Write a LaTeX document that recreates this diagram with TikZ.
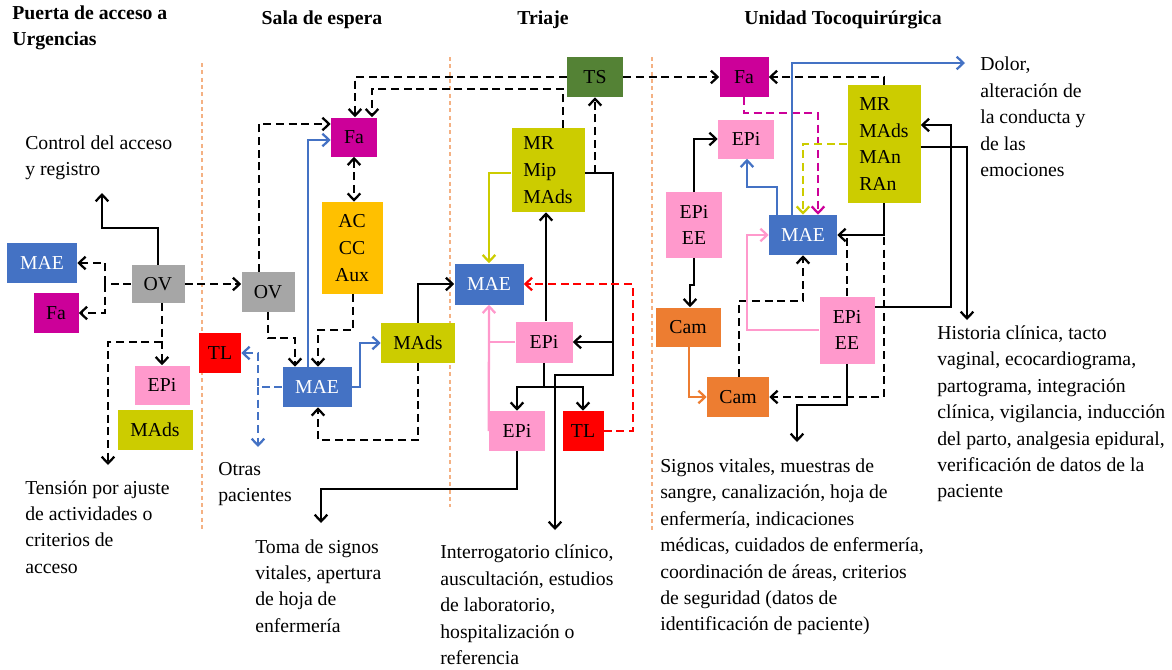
\documentclass[tikz,border=0pt]{standalone}
\usepackage{fontspec}
\setmainfont{Liberation Serif}
\usetikzlibrary{arrows.meta}
\definecolor{cMAE}{RGB}{68,114,196}
\definecolor{cFa}{RGB}{204,0,153}
\definecolor{cOV}{RGB}{166,166,166}
\definecolor{cEPi}{RGB}{255,153,204}
\definecolor{cMAds}{RGB}{204,204,0}
\definecolor{cTL}{RGB}{255,0,0}
\definecolor{cAC}{RGB}{255,192,0}
\definecolor{cTS}{RGB}{84,130,53}
\definecolor{cCam}{RGB}{237,125,49}
\definecolor{cSep}{RGB}{244,177,131}
\tikzset{
  box/.style={draw=none, inner sep=0pt, align=center, font=\fontsize{14.8}{20}\selectfont},
  wh/.style 2 args={minimum width=#1*0.75pt, minimum height=#2*0.75pt},
  txt/.style={anchor=west, inner sep=0pt, align=left, font=\fontsize{14.8}{19.8}\selectfont},
  hdr/.style={inner sep=0pt, align=left, font=\fontsize{14.8}{19.8}\selectfont\bfseries},
  ln/.style={line width=1.7pt, draw=black},
  arr/.style={-{Straight Barb[length=5pt,width=9.5pt]}},
  darr/.style={{Straight Barb[length=5pt,width=9.5pt]}-{Straight Barb[length=5pt,width=9.5pt]}},
  dsh/.style={dash pattern=on 6pt off 3.5pt},
  bl/.style={draw=cMAE},
  pk/.style={draw=cEPi},
  yg/.style={draw=cMAds},
  mg/.style={draw=cFa},
  rd/.style={draw=cTL},
  og/.style={draw=cCam},
  sep/.style={draw=cSep, line width=0.8pt, dash pattern=on 3pt off 2.5pt}
}
\begin{document}
\begin{tikzpicture}[x=0.75pt,y=-0.75pt]
\useasboundingbox (0,0) rectangle (1172,669);
% headers
\node[hdr, anchor=west] (h1) at (12,28) {Puerta de acceso a\\Urgencias};
\node[hdr] (h2) at (322,20) {Sala de espera};
\node[hdr] (h3) at (543,20) {Triaje};
\node[hdr] (h4) at (843,20) {Unidad Tocoquirúrgica};
% separators
\draw[sep] (202,63) -- (202,530);
\draw[sep] (450,57) -- (450,507);
\draw[sep] (652,57) -- (652,530);
% boxes
\node[box, wh={70}{40}, fill=cMAE, text=white] (MAEa) at (42,263) {MAE};
\node[box, wh={45}{40}, fill=cFa] (Faa) at (56,313) {Fa};
\node[box, wh={53}{38}, fill=cOV] (OVa) at (158,284) {OV};
\node[box, wh={53}{40}, fill=cOV] (OVb) at (268,292) {OV};
\node[box, wh={42}{40}, fill=cTL] (TLb) at (220,353) {TL};
\node[box, wh={55}{39}, fill=cEPi] (EPia) at (162,385) {EPi};
\node[box, wh={75}{40}, fill=cMAds] (MAdsa) at (155,430) {MAds};
\node[box, wh={46}{39}, fill=cFa] (Fab) at (354,137) {Fa};
\node[box, wh={61}{92}, fill=cAC] (AC) at (352,248) {AC\\CC\\Aux};
\node[box, wh={69}{40}, fill=cMAE, text=white] (MAEb) at (317,387) {MAE};
\node[box, wh={74}{40}, fill=cMAds] (MAdsb) at (418,343) {MAds};
\node[box, wh={56}{40}, fill=cTS] (TS) at (595,77) {TS};
\node[box, wh={73}{84}, fill=cMAds, align=left] (MRc) at (548,170) {MR\\Mip\\MAds};
\node[box, wh={69}{41}, fill=cMAE, text=white] (MAEc) at (489,284) {MAE};
\node[box, wh={57}{41}, fill=cEPi] (EPic) at (544,342) {EPi};
\node[box, wh={56}{40}, fill=cEPi] (EPid) at (517,431) {EPi};
\node[box, wh={41}{40}, fill=cTL] (TLc) at (583,431) {TL};
\node[box, wh={49}{40}, fill=cFa] (Fad) at (744,77) {Fa};
\node[box, wh={56}{39}, fill=cEPi] (EPie) at (746,139) {EPi};
\node[box, wh={56}{66}, fill=cEPi] (EPiEEa) at (694,225) {EPi\\EE};
\node[box, wh={68}{40}, fill=cMAE, text=white] (MAEd) at (803,235) {MAE};
\node[box, wh={73}{118}, fill=cMAds, align=left] (MRd) at (884,144) {MR\\MAds\\MAn\\RAn};
\node[box, wh={65}{39}, fill=cCam] (Cama) at (688,327) {Cam};
\node[box, wh={62}{40}, fill=cCam] (Camb) at (738,397) {Cam};
\node[box, wh={55}{67}, fill=cEPi] (EPiEEb) at (847,330) {EPi\\EE};
% texts
\node[txt] (tCtrl) at (25,158) {Control del acceso\\y registro};
\node[txt] (tTens) at (25,527) {Tensión por ajuste\\de actividades o\\criterios de\\acceso};
\node[txt] (tOtras) at (218,484) {Otras\\pacientes};
\node[txt] (tToma) at (255,586) {Toma de signos\\vitales, apertura\\de hoja de\\enfermería};
\node[txt] (tInt) at (440,605) {Interrogatorio clínico,\\auscultación, estudios\\de laboratorio,\\hospitalización o\\referencia};
\node[txt] (tSig) at (660,547) {Signos vitales, muestras de\\sangre, canalización, hoja de\\enfermería, indicaciones\\médicas, cuidados de enfermería,\\coordinación de áreas, criterios\\de seguridad (datos de\\identificación de paciente)};
\node[txt] (tHist) at (937,414) {Historia clínica, tacto\\vaginal, ecocardiograma,\\partograma, integración\\clínica, vigilancia, inducción\\del parto, analgesia epidural,\\verificación de datos de la\\paciente};
\node[txt] (tDol) at (980,117) {Dolor,\\alteración de\\la conducta y\\de las\\emociones};
% arrow target coordinates
\coordinate (pCtrl) at (102,193);
\coordinate (pTens) at (108,465);
\coordinate (pOtras) at (258,447);
\coordinate (pToma) at (321,523);
\coordinate (pInt) at (555,530);
\coordinate (pSig) at (797,442);
\coordinate (pHist) at (967,320);
\coordinate (pDol) at (965,63);
% ---- connectors: Puerta
\draw[ln, arr] (OVa.north) |- (130,228) -| (pCtrl);
\draw[ln, dsh] (OVa.west) -- (105,284);
\draw[ln, dsh, arr] (105,284) |- (MAEa.east);
\draw[ln, dsh, arr] (105,284) |- (Faa.east);
\draw[ln, dsh, arr] (162,0 |- OVa.south) -- (EPia.north);
\draw[ln, dsh, arr] (162,342) -| (pTens);
\draw[ln, dsh, arr] (OVa.east) -- (OVb.west |- OVa.east);
% ---- Sala de espera
\draw[ln, dsh, arr] (OVb.south) |- (295,338) -- (295,0 |- MAEb.north);
\draw[ln, dsh, arr] (259,0 |- OVb.north) |- (Fab.west |- 0,124);
\draw[ln, bl, arr] (308,0 |- MAEb.north) |- (Fab.west |- 0,140);
\draw[ln, dsh, darr] (354,0 |- Fab.south) -- (354,0 |- AC.north);
\draw[ln, dsh, arr] (353,0 |- AC.south) |- (318,330) -- (318,0 |- MAEb.north);
\draw[ln, bl, arr] (MAEb.east) -| (360,343) -- (MAdsb.west);
\draw[ln, arr] (MAdsb.north) |- (MAEc.west);
\draw[ln, dsh, arr] (MAdsb.south) |- (318,440) -- (318,0 |- MAEb.south);
\draw[ln, bl, dsh, arr] (MAEb.west) -| (258,353) -- (TLb.east);
\draw[ln, bl, dsh, arr] (258,387) -- (pOtras);
% ---- Triaje
\draw[ln, dsh, arr] (TS.west) -| (355,0 |- Fab.north);
\draw[ln, dsh, arr] (563,0 |- MRc.north) |- (372,89) -- (372,0 |- Fab.north);
\draw[ln, dsh, arr] (595,173) -- (TS.south);
\draw[ln, arr] (MRc.east |- 0,173) -| (613,375) -| (pInt);
\draw[ln, arr] (613,342) -- (EPic.east);
\draw[ln, arr] (546,0 |- EPic.north) -- (546,0 |- MRc.south);
\draw[ln] (EPic.south) -- (544,387);
\draw[ln, arr] (544,387) -| (EPid.north);
\draw[ln, arr] (544,387) -| (TLc.north);
\draw[ln, yg, arr] (MRc.west |- 0,173) -| (MAEc.north);
\draw[ln, pk, arr] (EPid.west) -- (MAEc.south);
\draw[ln, pk] (EPic.west) -- (MAEc.south |- EPic.west);
\draw[ln, rd, dsh, arr] (TLc.east) -| (633,284) -- (MAEc.east);
\draw[ln, arr] (EPid.south) |- (380,489) -| (pToma);
% ---- Unidad Tocoquirurgica
\draw[ln, dsh, arr] (TS.east) -- (Fad.west);
\draw[ln, mg, dsh, arr] (Fad.south) |- (818,113) -- (818,0 |- MAEd.north);
\draw[ln, yg, dsh, arr] (MRd.west) -| (MAEd.north);
\draw[ln, bl, arr] (792,0 |- MAEd.north) |- (pDol);
\draw[ln, dsh, arr] (MRd.north) |- (Fad.east);
\draw[ln, bl, arr] (777,0 |- MAEd.north) |- (747,187) -- (747,0 |- EPie.south);
\draw[ln, arr] (EPiEEa.north) |- (EPie.west);
\draw[ln, arr] (EPiEEa.south) |- (690,285) -- (690,0 |- Cama.north);
\draw[ln, og, arr] (689,0 |- Cama.south) |- (Camb.west);
\draw[ln, dsh, arr] (739,0 |- Camb.north) |- (803,301) -- (MAEd.south);
\draw[ln, pk, arr] (EPiEEb.west) -| (747,235) -- (MAEd.west);
\draw[ln, arr] (MRd.south) |- (MAEd.east);
\draw[ln, dsh] (EPiEEb.north) -- (847,237);
\draw[ln, dsh, arr] (884,237) |- (Camb.east);
\draw[ln, arr] (EPiEEb.south) |- (797,405) -- (pSig);
\draw[ln, arr] (MRd.east |- 0,147) -| (pHist);
\draw[ln, arr] (EPiEEb.east |- 0,307) -| (951,125) -- (MRd.east |- 0,125);
\end{tikzpicture}
\end{document}
